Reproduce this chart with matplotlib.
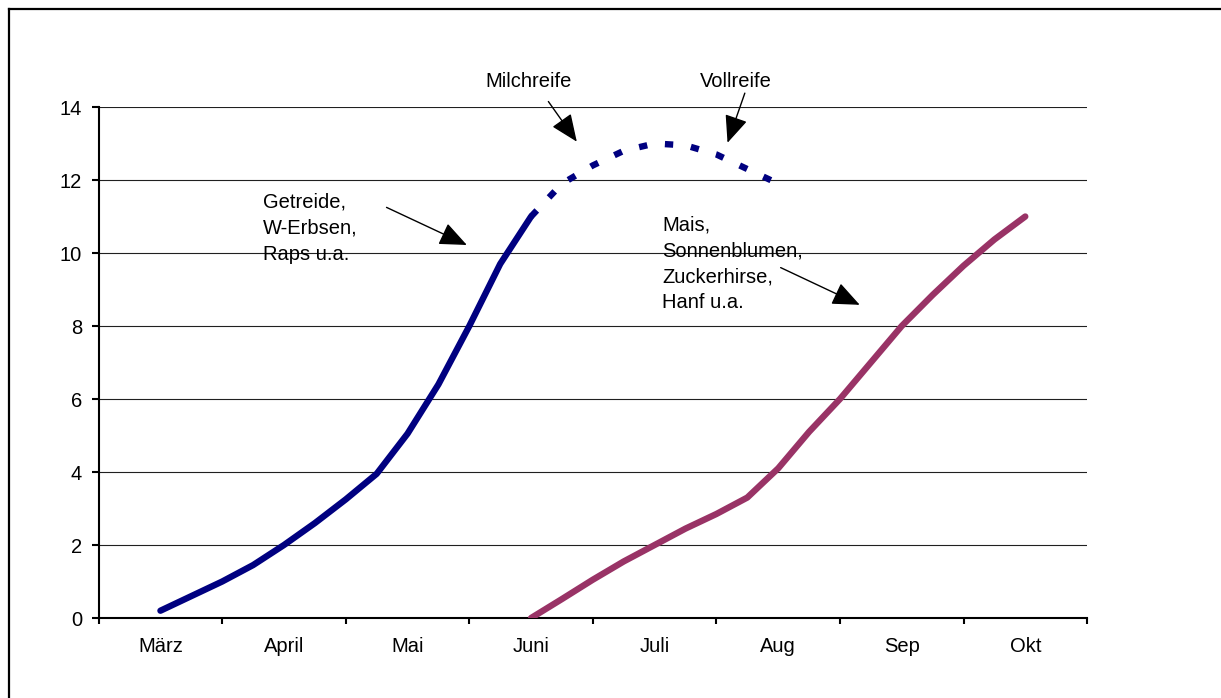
import matplotlib.pyplot as plt
from matplotlib.lines import Line2D

plt.rcParams['font.family'] = ['Liberation Sans', 'DejaVu Sans']

months = ['März', 'April', 'Mai', 'Juni', 'Juli', 'Aug', 'Sep', 'Okt']

# readings every quarter month (month index)
early_x = [0, 0.25, 0.5, 0.75, 1, 1.25, 1.5, 1.75, 2, 2.25, 2.5, 2.75, 3]
early_y = [0.2, 0.6, 1.0, 1.45, 2.0, 2.6, 3.25, 3.95, 5.05, 6.4, 8.0, 9.7, 11.0]

ripe_x = [3, 3.25, 3.5, 3.75, 4, 4.25, 4.5, 4.75, 5]
ripe_y = [11.0, 11.9, 12.4, 12.8, 13.0, 12.95, 12.7, 12.3, 11.9]

late_x = [3, 3.25, 3.5, 3.75, 4, 4.25, 4.5, 4.75, 5, 5.25, 5.5, 5.75, 6, 6.25, 6.5, 6.75, 7]
late_y = [0.0, 0.52, 1.05, 1.55, 2.0, 2.45, 2.85, 3.3, 4.1, 5.1, 6.0, 7.0, 8.0, 8.85, 9.65, 10.37, 11.0]

fs = 14.5

fig = plt.figure(figsize=(12.21, 6.98), dpi=100)
ax = fig.add_axes([0.0808, 0.1146, 0.8095, 0.7321])

# chart frame: only the top and left edges are inside the picture
fig.lines.append(Line2D([9 / 1221, 1], [1 - 9 / 698, 1 - 9 / 698],
                        transform=fig.transFigure, color='black', lw=1.6))
fig.lines.append(Line2D([9 / 1221, 9 / 1221], [0, 1 - 9 / 698],
                        transform=fig.transFigure, color='black', lw=1.6))

ax.plot(early_x, early_y, color='#000080', lw=4.6, solid_capstyle='round',
        solid_joinstyle='round', zorder=3)
ax.plot(ripe_x, ripe_y, color='#000080', lw=4.6, linestyle=(0, (1.3, 2.8)),
        dash_capstyle='butt', zorder=3)
ax.plot(late_x, late_y, color='#993366', lw=4.6, solid_capstyle='round',
        solid_joinstyle='round', zorder=3)

ax.set_xlim(-0.5, 7.5)
ax.set_ylim(0, 14)
ax.set_yticks(range(0, 15, 2))
ax.set_xticks(range(len(months)))
ax.set_xticklabels(months)
ax.set_xticks([i - 0.5 for i in range(len(months) + 1)], minor=True)
ax.tick_params(axis='x', which='major', length=0, pad=14, labelsize=fs)
ax.tick_params(axis='x', which='minor', length=4.5, width=1.5, direction='out')
ax.tick_params(axis='y', length=5, width=1.5, pad=7, labelsize=fs)

ax.yaxis.grid(True, color='#202020', lw=0.8)
ax.set_axisbelow(True)
for side in ['top', 'right']:
    ax.spines[side].set_visible(False)
for side in ['left', 'bottom']:
    ax.spines[side].set_linewidth(1.5)

arrow = dict(arrowstyle='-|>,head_length=1.7,head_width=0.72', color='black',
             lw=1, shrinkA=0, shrinkB=0)

ax.text(2.98, 14.69, 'Milchreife', ha='center', va='center', fontsize=fs)
ax.annotate('', xy=(3.37, 13.05), xytext=(3.14, 14.15), arrowprops=arrow,
            annotation_clip=False)
ax.text(4.66, 14.69, 'Vollreife', ha='center', va='center', fontsize=fs)
ax.annotate('', xy=(4.59, 13.02), xytext=(4.73, 14.38), arrowprops=arrow,
            annotation_clip=False)

ax.text(0.83, 10.68, 'Getreide,\nW-Erbsen,\nRaps u.a.', ha='left', va='center',
        fontsize=fs, linespacing=1.47)
ax.annotate('', xy=(2.48, 10.22), xytext=(1.83, 11.25), arrowprops=arrow)

ax.text(4.06, 9.71, 'Mais,\nSonnenblumen,\nZuckerhirse,\nHanf u.a.', ha='left',
        va='center', fontsize=fs, linespacing=1.47)
ax.annotate('', xy=(5.66, 8.58), xytext=(5.02, 9.6), arrowprops=arrow)

fig.savefig('out.png', dpi=100)
